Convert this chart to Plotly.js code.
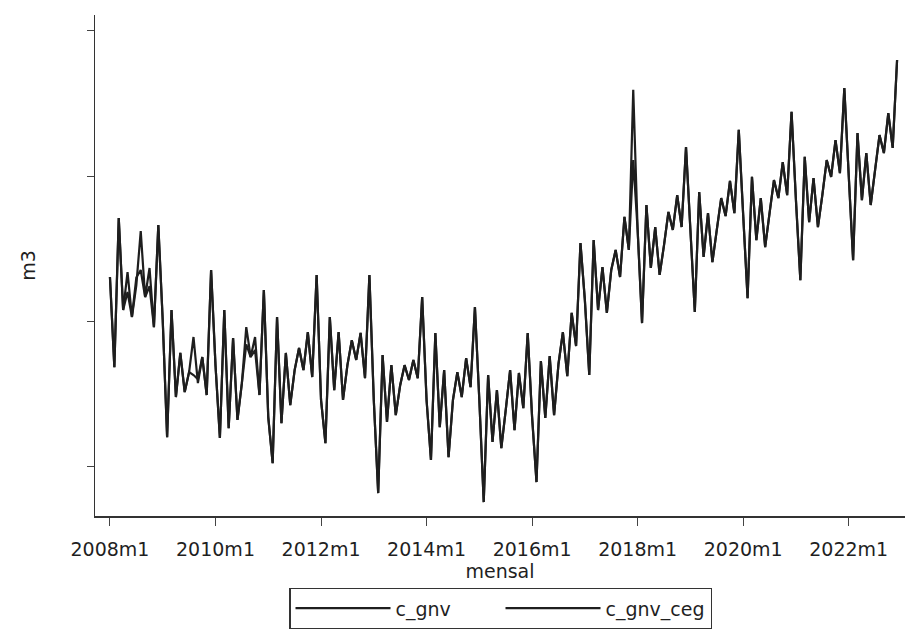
<!DOCTYPE html>
<html>
<head>
<meta charset="utf-8">
<script src="https://cdn.plot.ly/plotly-3.0.1.min.js"></script>
<style>
  html, body { margin: 0; padding: 0; background: #ffffff; }
  #chart { width: 905px; height: 632px; }
</style>
</head>
<body>
<div id="chart"></div>
<script>
// Monthly series 2008m1 .. 2022m12 (180 months)
const startYear = 2008;
const nMonths = 180;

const c_gnv = [
  165.2, 134.1, 185.5, 153.8, 166.9, 151.4, 162.4, 181.0, 158.3, 168.3, 147.9, 183.1,
  150.3, 110.0, 153.8, 123.8, 139.0, 125.5, 132.4, 144.5, 128.6, 137.6, 124.5, 167.6,
  134.8, 109.7, 153.8, 113.1, 144.1, 115.9, 128.6, 147.9, 137.6, 144.5, 124.5, 160.7,
  116.9, 101.0, 151.4, 114.8, 139.0, 121.0, 133.1, 140.7, 133.1, 146.2, 130.7, 165.9,
  122.8, 107.9, 151.4, 126.2, 146.2, 122.8, 134.8, 143.4, 136.6, 145.9, 130.3, 165.9,
  122.8,  90.7, 138.3, 115.2, 134.8, 117.6, 127.9, 134.8, 129.7, 136.6, 130.3, 158.3,
  122.8, 102.1, 145.9, 113.4, 133.1, 103.1, 122.8, 132.4, 123.8, 137.2, 127.2, 154.8,
  122.8,  87.6, 131.4, 108.3, 126.2, 106.2, 119.3, 133.1, 112.4, 132.1, 120.0, 145.9,
  116.9,  94.5, 136.2, 116.6, 137.9, 117.6, 135.2, 146.2, 131.0, 152.8, 141.4, 176.9,
  157.2, 131.4, 177.9, 153.8, 168.6, 152.8, 167.6, 174.5, 165.2, 185.9, 174.5, 229.7,
  181.4, 149.3, 190.0, 168.3, 182.4, 165.9, 176.2, 187.6, 181.4, 193.4, 182.4, 210.0,
  181.4, 153.1, 194.5, 172.1, 187.2, 170.3, 181.4, 192.4, 186.2, 198.3, 187.2, 215.9,
  186.6, 157.9, 199.7, 177.9, 192.4, 175.5, 187.2, 198.6, 192.4, 204.8, 193.4, 222.1,
  191.7, 164.1, 206.6, 184.1, 199.3, 182.4, 193.4, 205.5, 199.7, 212.4, 201.0, 230.3,
  200.3, 171.0, 214.8, 191.7, 207.9, 190.0, 202.1, 214.1, 207.9, 221.7, 209.7, 240.0
];

const c_gnv_ceg = [
  165.2, 134.1, 185.5, 153.8, 160.0, 151.4, 165.0, 167.6, 158.3, 162.0, 147.9, 183.1,
  150.3, 110.0, 153.8, 123.8, 139.0, 125.5, 132.4, 131.4, 130.0, 137.6, 124.5, 167.6,
  134.8, 109.7, 153.8, 113.1, 144.1, 115.9, 128.6, 142.0, 137.6, 140.0, 124.5, 160.7,
  116.9, 101.0, 151.4, 114.8, 139.0, 121.0, 133.1, 140.7, 133.1, 146.2, 130.7, 165.9,
  122.8, 107.9, 151.4, 126.2, 146.2, 122.8, 134.8, 143.4, 136.6, 145.9, 130.3, 165.9,
  122.8,  90.7, 138.3, 115.2, 134.8, 117.6, 127.9, 134.8, 129.7, 136.6, 130.3, 158.3,
  122.8, 102.1, 145.9, 113.4, 133.1, 103.1, 122.8, 132.4, 123.8, 137.2, 127.2, 154.8,
  122.8,  87.6, 131.4, 108.3, 126.2, 106.2, 119.3, 133.1, 112.4, 132.1, 120.0, 145.9,
  116.9,  94.5, 136.2, 116.6, 137.9, 117.6, 135.2, 146.2, 131.0, 152.8, 141.4, 176.9,
  157.2, 131.4, 177.9, 153.8, 168.6, 152.8, 167.6, 174.5, 165.2, 185.9, 174.5, 205.5,
  181.4, 149.3, 190.0, 168.3, 182.4, 165.9, 176.2, 187.6, 181.4, 193.4, 182.4, 210.0,
  181.4, 153.1, 194.5, 172.1, 187.2, 170.3, 181.4, 192.4, 186.2, 198.3, 187.2, 215.9,
  186.6, 157.9, 199.7, 177.9, 192.4, 175.5, 187.2, 198.6, 192.4, 204.8, 193.4, 222.1,
  191.7, 164.1, 206.6, 184.1, 199.3, 182.4, 193.4, 205.5, 199.7, 212.4, 201.0, 230.3,
  200.3, 171.0, 214.8, 191.7, 207.9, 190.0, 202.1, 214.1, 207.9, 221.7, 209.7, 240.0
];

const tickLabels = ["2008m1", "2010m1", "2012m1", "2014m1", "2016m1", "2018m1", "2020m1", "2022m1"];
const tickYears  = [2008, 2010, 2012, 2014, 2016, 2018, 2020, 2022];
const yTicks = [100, 150, 200, 250];

// month index axis
const monthIdx = [];
for (let i = 0; i < nMonths; i++) monthIdx.push(i);
const tickPos = tickYears.map(y => (y - startYear) * 12);

const font = "DejaVu Sans, Liberation Sans, Arial, sans-serif";
const textColor = "#1f1f1f";
const lineColor = "#1e1e1e";

const traces = [
  { x: monthIdx, y: c_gnv, type: "scatter", mode: "lines", name: "c_gnv",
    line: { color: lineColor, width: 2.2 } },
  { x: monthIdx, y: c_gnv_ceg, type: "scatter", mode: "lines", name: "c_gnv_ceg",
    line: { color: lineColor, width: 2.2 } }
];

const layout = {
  width: 905, height: 632,
  margin: { l: 95, r: 0, t: 15, b: 116 },
  paper_bgcolor: "#ffffff",
  plot_bgcolor: "#ffffff",
  font: { family: font, size: 19, color: textColor },
  showlegend: true,
  legend: {
    orientation: "h",
    x: 0.501, xanchor: "center",
    y: -0.144, yanchor: "top",
    bordercolor: "#333", borderwidth: 1.2,
    font: { family: font, size: 19, color: textColor },
    entrywidth: 100,
    itemwidth: 95
  },
  xaxis: {
    range: [-3.4, 180.8],
    tickvals: tickPos, ticktext: tickLabels,
    ticks: "outside", ticklen: 8, tickcolor: "#444", tickwidth: 1,
    ticklabelstandoff: 8,
    showline: true, linecolor: "#333", linewidth: 1.5,
    showgrid: false, zeroline: false,
    tickfont: { family: font, size: 19, color: textColor },
    title: { text: "mensal", font: { family: font, size: 19, color: textColor }, standoff: 0 }
  },
  yaxis: {
    range: [82.8, 255.5],
    tickvals: yTicks,
    showticklabels: false,
    ticks: "outside", ticklen: 7, tickcolor: "#444", tickwidth: 1,
    showline: true, linecolor: "#333", linewidth: 1.5,
    showgrid: false, zeroline: false,
    title: { text: "m3", font: { family: font, size: 19, color: textColor }, standoff: 46 }
  }
};

Plotly.newPlot("chart", traces, layout, { displayModeBar: false, staticPlot: true });
</script>
</body>
</html>
